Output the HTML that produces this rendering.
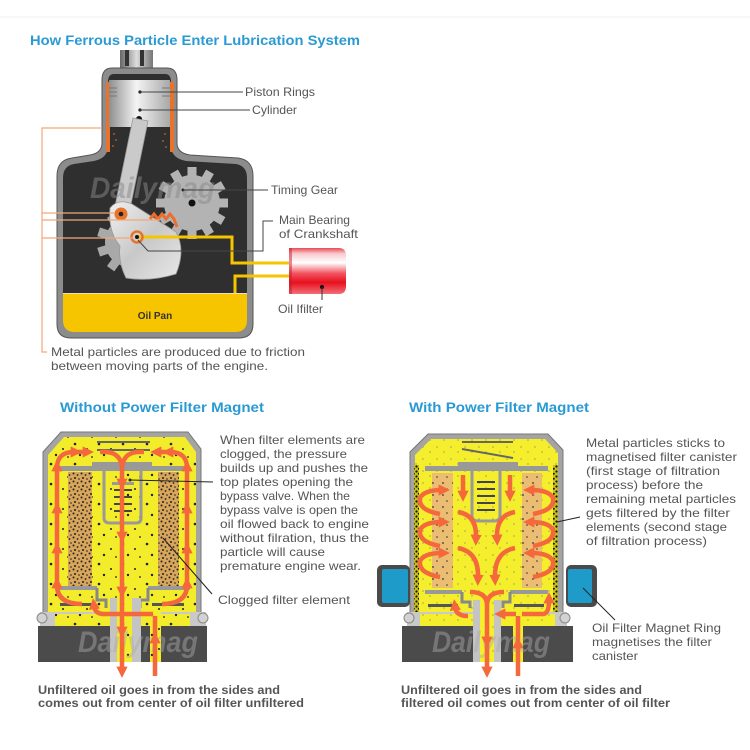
<!DOCTYPE html>
<html><head><meta charset="utf-8"><style>
html,body{margin:0;padding:0;background:#fff;}
svg{display:block;}
text{font-family:"Liberation Sans",sans-serif;}
.lb{font-size:12px;fill:#555;}
.hd{font-size:14px;fill:#2a9ad4;font-weight:bold;}
.bt{font-size:11.5px;fill:#555;font-weight:bold;}
.ar{stroke:#f4683c;stroke-width:4.5;fill:none;}
</style></head><body>
<svg width="750" height="750" viewBox="0 0 750 750" xmlns="http://www.w3.org/2000/svg">
<defs>
 <marker id="ah" viewBox="0 0 10 10" refX="3" refY="5" markerWidth="2.5" markerHeight="2.5" orient="auto"><path d="M0,0 L10,5 L0,10 z" fill="#f4683c"/></marker>
 <pattern id="sp" width="24" height="20" patternUnits="userSpaceOnUse">
  <rect width="24" height="20" fill="#f3ec2b"/>
  <circle cx="3" cy="4" r="1.3" fill="#222"/><circle cx="15" cy="9" r="1" fill="#222"/>
  <circle cx="8" cy="15" r="1.2" fill="#222"/><circle cx="20" cy="17" r="0.9" fill="#222"/>
 </pattern>
 <pattern id="ty" width="14" height="12" patternUnits="userSpaceOnUse">
  <rect width="14" height="12" fill="#f4ee2c"/>
  <circle cx="3" cy="3" r="0.6" fill="#777"/><circle cx="10" cy="8" r="0.6" fill="#777"/>
 </pattern>
 <pattern id="dn" width="8" height="8" patternUnits="userSpaceOnUse">
  <rect width="8" height="8" fill="#d8a65a"/>
  <circle cx="1.5" cy="1.5" r="1" fill="#222"/><circle cx="5.5" cy="3" r="0.9" fill="#222"/>
  <circle cx="3" cy="6" r="1" fill="#222"/><circle cx="7" cy="7" r="0.8" fill="#222"/>
 </pattern>
 <pattern id="lt" width="10" height="12" patternUnits="userSpaceOnUse">
  <rect width="10" height="12" fill="#ebbd72"/>
  <circle cx="3" cy="3" r="0.9" fill="#333"/><circle cx="7" cy="9" r="0.8" fill="#333"/>
 </pattern>
 <pattern id="mw" width="5" height="5" patternUnits="userSpaceOnUse">
  <rect width="5" height="5" fill="#c8c020"/>
  <circle cx="1.5" cy="1.5" r="1.1" fill="#111"/><circle cx="3.8" cy="3.8" r="1" fill="#111"/>
 </pattern>
 <linearGradient id="pist" x1="0" x2="1" y1="0" y2="0">
  <stop offset="0" stop-color="#8f8f8f"/><stop offset="0.45" stop-color="#f4f4f4"/><stop offset="1" stop-color="#a8a8a8"/>
 </linearGradient>
 <linearGradient id="stem" x1="0" x2="1" y1="0" y2="0">
  <stop offset="0" stop-color="#666"/><stop offset="0.5" stop-color="#ddd"/><stop offset="1" stop-color="#777"/>
 </linearGradient>
 <linearGradient id="cw" x1="0" x2="1" y1="0" y2="1">
  <stop offset="0" stop-color="#f0f0f0"/><stop offset="0.5" stop-color="#c8c8c8"/><stop offset="1" stop-color="#e8e8e8"/>
 </linearGradient>
 <linearGradient id="redf" x1="0" x2="0" y1="0" y2="1">
  <stop offset="0" stop-color="#e84a55"/><stop offset="0.12" stop-color="#f8c8cc"/><stop offset="0.32" stop-color="#ffffff"/>
  <stop offset="0.55" stop-color="#f25560"/><stop offset="0.75" stop-color="#e8101f"/><stop offset="1" stop-color="#f07078"/>
 </linearGradient>
</defs>

<rect width="750" height="750" fill="#fff"/>
<line x1="0" y1="17" x2="750" y2="17" stroke="#f2f2f2" stroke-width="1"/>

<!-- ===== ENGINE ===== -->
<text class="hd" x="30" y="45" textLength="330" lengthAdjust="spacingAndGlyphs">How Ferrous Particle Enter Lubrication System</text>

<rect x="120" y="50" width="33" height="24" fill="url(#stem)"/>
<rect x="125" y="50" width="4" height="16" fill="#333"/>
<rect x="140" y="50" width="4" height="16" fill="#333"/>

<path d="M112,68 H167 Q177,68 177,80 V143 Q177,153 190,155 L238,158 Q253,160 253,176 V324 Q253,338 239,338 H71 Q57,338 57,324 V176 Q57,160 72,158 L90,155 Q102,153 102,143 V80 Q102,68 112,68 Z" fill="#8c8c8c" stroke="#555" stroke-width="1"/>
<path d="M114,74 H165 Q171,74 171,82 V146 Q171,158 186,161 L236,164 Q247,166 247,178 V293 H63 V178 Q63,166 74,164 L94,161 Q108,158 108,146 V82 Q108,74 114,74 Z" fill="#2f2f2f"/>
<path d="M63,293 H247 V320 Q247,332 235,332 H75 Q63,332 63,320 Z" fill="#f6c500"/>
<line x1="63" y1="293.5" x2="247" y2="293.5" stroke="#e8e0c0" stroke-width="1"/>
<text x="155" y="319" font-size="10" font-weight="bold" fill="#333" text-anchor="middle">Oil Pan</text>

<!-- cylinder walls -->
<rect x="106" y="82" width="4" height="70" fill="#e8732a"/>
<rect x="170" y="82" width="4" height="70" fill="#e8732a"/>
<g fill="#c8662a">
 <circle cx="114" cy="134" r="0.9"/><circle cx="116" cy="140" r="0.9"/><circle cx="113" cy="146" r="0.9"/>
 <circle cx="165" cy="134" r="0.9"/><circle cx="163" cy="141" r="0.9"/><circle cx="166" cy="147" r="0.9"/>
</g>
<!-- piston -->
<rect x="109" y="80" width="61" height="47" fill="url(#pist)"/>
<g stroke="#777" stroke-width="1">
 <line x1="109" y1="88" x2="117" y2="88"/><line x1="109" y1="92" x2="117" y2="92"/><line x1="109" y1="96" x2="117" y2="96"/>
 <line x1="162" y1="88" x2="170" y2="88"/><line x1="162" y1="92" x2="170" y2="92"/><line x1="162" y1="96" x2="170" y2="96"/>
</g>
<circle cx="140" cy="92" r="1.6" fill="#222"/>
<circle cx="140" cy="110" r="1.6" fill="#222"/>
<circle cx="139" cy="119" r="3" fill="#111"/>

<!-- crank gear -->
<g transform="translate(130,242)" fill="#a9a9a9">
 <circle r="25"/>
 <rect x="-4.5" y="-33" width="9" height="10"/>
 <rect x="-4.5" y="-33" width="9" height="10" transform="rotate(36)"/>
 <rect x="-4.5" y="-33" width="9" height="10" transform="rotate(72)"/>
 <rect x="-4.5" y="-33" width="9" height="10" transform="rotate(108)"/>
 <rect x="-4.5" y="-33" width="9" height="10" transform="rotate(144)"/>
 <rect x="-4.5" y="-33" width="9" height="10" transform="rotate(180)"/>
 <rect x="-4.5" y="-33" width="9" height="10" transform="rotate(216)"/>
 <rect x="-4.5" y="-33" width="9" height="10" transform="rotate(252)"/>
 <rect x="-4.5" y="-33" width="9" height="10" transform="rotate(288)"/>
 <rect x="-4.5" y="-33" width="9" height="10" transform="rotate(324)"/>
</g>
<!-- timing gear -->
<g transform="translate(192,203)" fill="#b3b3b3">
 <circle r="28"/>
 <rect x="-4.5" y="-36" width="9" height="10"/>
 <rect x="-4.5" y="-36" width="9" height="10" transform="rotate(30)"/>
 <rect x="-4.5" y="-36" width="9" height="10" transform="rotate(60)"/>
 <rect x="-4.5" y="-36" width="9" height="10" transform="rotate(90)"/>
 <rect x="-4.5" y="-36" width="9" height="10" transform="rotate(120)"/>
 <rect x="-4.5" y="-36" width="9" height="10" transform="rotate(150)"/>
 <rect x="-4.5" y="-36" width="9" height="10" transform="rotate(180)"/>
 <rect x="-4.5" y="-36" width="9" height="10" transform="rotate(210)"/>
 <rect x="-4.5" y="-36" width="9" height="10" transform="rotate(240)"/>
 <rect x="-4.5" y="-36" width="9" height="10" transform="rotate(270)"/>
 <rect x="-4.5" y="-36" width="9" height="10" transform="rotate(300)"/>
 <rect x="-4.5" y="-36" width="9" height="10" transform="rotate(330)"/>
 <circle r="3.5" fill="#111"/>
</g>
<circle cx="183" cy="190" r="1.5" fill="#222"/>

<!-- connecting rod & counterweight -->
<polygon points="133,118 148,121 129,214 114,211" fill="#cacaca" stroke="#999" stroke-width="0.8"/>
<path d="M110,208 Q118,198 132,204 L176,232 Q186,250 176,274 Q150,282 126,278 Q118,262 120,246 Q108,232 110,208 Z" fill="url(#cw)" stroke="#999" stroke-width="0.8"/>
<circle cx="121" cy="214" r="6.5" fill="#e8732a"/>
<circle cx="121" cy="214" r="2.3" fill="#222"/>
<path d="M150,219 l4,-5 l4,5 l4,-5 l4,5 l4,-5 l4,5 l3,8" stroke="#ec6e2c" stroke-width="3" fill="none"/>

<!-- watermark -->
<text x="90" y="198" font-size="30" font-weight="bold" font-style="italic" fill="#8a8a8a" opacity="0.5" textLength="125" lengthAdjust="spacingAndGlyphs">Dailymag</text>

<!-- oil lines -->
<path d="M138,237 H232 V263 H290" stroke="#f6c500" stroke-width="3" fill="none"/>
<path d="M290,276 H235 V293" stroke="#f6c500" stroke-width="3" fill="none"/>
<circle cx="137" cy="237" r="5.5" fill="none" stroke="#e8732a" stroke-width="2.5"/>
<circle cx="137" cy="237" r="2" fill="#111"/>

<!-- oil filter -->
<path d="M289,248 H339 Q346,248 346,256 V286 Q346,294 339,294 H289 Z" fill="url(#redf)"/>
<rect x="289" y="248" width="3" height="46" fill="#c81a25" opacity="0.5"/>
<circle cx="322" cy="287" r="2" fill="#111"/>
<line x1="322" y1="287" x2="322" y2="300" stroke="#333" stroke-width="1"/>

<!-- leaders -->
<g stroke="#444" stroke-width="1" fill="none">
 <line x1="140" y1="92" x2="243" y2="92"/>
 <line x1="140" y1="110" x2="250" y2="110"/>
 <line x1="183" y1="190" x2="268" y2="190"/>
 <path d="M138,240 L148,251 H263 V221 H273"/>
</g>
<g stroke="#f2a878" stroke-width="1.2" fill="none">
 <path d="M102,128 H42 V352 H47"/>
 <line x1="42" y1="213" x2="115" y2="213"/>
 <line x1="42" y1="220" x2="160" y2="220"/>
 <line x1="42" y1="238" x2="133" y2="238"/>
</g>

<text class="lb" x="245" y="96" textLength="70" lengthAdjust="spacingAndGlyphs">Piston Rings</text>
<text class="lb" x="252" y="114" textLength="45" lengthAdjust="spacingAndGlyphs">Cylinder</text>
<text class="lb" x="271" y="194" textLength="67" lengthAdjust="spacingAndGlyphs">Timing Gear</text>
<text class="lb" x="279" y="224" textLength="71" lengthAdjust="spacingAndGlyphs">Main Bearing</text>
<text class="lb" x="279" y="238" textLength="79" lengthAdjust="spacingAndGlyphs">of Crankshaft</text>
<text class="lb" x="278" y="313" textLength="45" lengthAdjust="spacingAndGlyphs">Oil Ifilter</text>
<text class="lb" x="51" y="356" textLength="254" lengthAdjust="spacingAndGlyphs">Metal particles are produced due to friction</text>
<text class="lb" x="51" y="370" textLength="217" lengthAdjust="spacingAndGlyphs">between moving parts of the engine.</text>

<!-- ===== LEFT FILTER ===== -->
<text class="hd" x="60" y="412" textLength="204" lengthAdjust="spacingAndGlyphs">Without Power Filter Magnet</text>

<path d="M43,617 V452 L61,432 H188 L201,449 V617 Z" fill="#a4a4a4" stroke="#777" stroke-width="1"/>
<path d="M48,613 V455 L64,437 H185 L196,452 V613 Z" fill="url(#sp)"/>
<line x1="97" y1="442" x2="150" y2="442" stroke="#666" stroke-width="2"/>
<line x1="97" y1="450" x2="150" y2="450" stroke="#666" stroke-width="2"/>
<rect x="55" y="466" width="133" height="5" fill="#999"/>
<rect x="92" y="462" width="60" height="5" fill="#999"/>
<rect x="68" y="472" width="24" height="116" fill="url(#dn)"/>
<rect x="158" y="472" width="21" height="116" fill="url(#dn)"/>
<path d="M104,471 V518 Q104,523 110,523 H136 Q141,523 141,518 V471" stroke="#999" stroke-width="3" fill="none"/>
<rect x="112" y="482" width="22" height="3" fill="#999"/>
<g stroke="#444" stroke-width="2"><line x1="114" y1="490" x2="132" y2="490"/><line x1="114" y1="497" x2="132" y2="497"/><line x1="114" y1="504" x2="132" y2="504"/><line x1="114" y1="511" x2="132" y2="511"/></g>
<rect x="57" y="586" width="40" height="4" fill="#999"/>
<rect x="148" y="586" width="42" height="4" fill="#999"/>
<path d="M97,588 V600 H106 V608" stroke="#888" stroke-width="3" fill="none"/>
<path d="M148,588 V600 H140 V608" stroke="#888" stroke-width="3" fill="none"/>
<rect x="60" y="603" width="32" height="3" fill="#555"/>
<rect x="152" y="603" width="32" height="3" fill="#555"/>
<rect x="40" y="612" width="166" height="14" fill="#c9c9c9"/>
<rect x="55" y="614" width="135" height="12" fill="url(#sp)"/>
<circle cx="42" cy="618" r="5" fill="#d2d2d2" stroke="#888" stroke-width="1"/>
<circle cx="203" cy="618" r="5" fill="#d2d2d2" stroke="#888" stroke-width="1"/>
<rect x="38" y="626" width="169" height="36" fill="#4b4b4b"/>
<rect x="110" y="598" width="31" height="64" fill="#c4c4c4"/>
<rect x="117" y="598" width="15" height="64" fill="url(#sp)"/>
<rect x="150" y="612" width="11" height="50" fill="url(#sp)"/>
<text x="78" y="652" font-size="30" font-weight="bold" font-style="italic" fill="#aaa" opacity="0.45" textLength="120" lengthAdjust="spacingAndGlyphs">Dailymag</text>

<path class="ar" marker-mid="url(#ah)" marker-end="url(#ah)" d="M82,604 Q57,604 57,585 V550 V510 V468 Q57,452 74,452 H86"/>
<path class="ar" marker-mid="url(#ah)" marker-end="url(#ah)" d="M162,604 Q187,604 187,585 V550 V510 V468 Q187,452 170,452 H158"/>
<path class="ar" d="M100,452 Q122,450 122,470 M144,452 Q122,450 122,470"/>
<path class="ar" marker-mid="url(#ah)" marker-end="url(#ah)" d="M122,470 V482 V535 V590 V630 V670"/>
<path class="ar" marker-mid="url(#ah)" d="M155,676 V640 V616"/>
<path class="ar" marker-end="url(#ah)" d="M153,614 H104 Q95,614 94,606"/>

<g stroke="#222" stroke-width="1" fill="none">
 <line x1="213" y1="482" x2="130" y2="480"/>
 <line x1="212" y1="594" x2="163" y2="538"/>
</g>
<circle cx="130" cy="480" r="1.5" fill="#222"/>

<g class="lb">
<text x="220" y="444" textLength="145" lengthAdjust="spacingAndGlyphs">When filter elements are</text>
<text x="220" y="458" textLength="127" lengthAdjust="spacingAndGlyphs">clogged, the pressure</text>
<text x="220" y="472" textLength="148" lengthAdjust="spacingAndGlyphs">builds up and pushes the</text>
<text x="220" y="486" textLength="133" lengthAdjust="spacingAndGlyphs">top plates opening the</text>
<text x="220" y="500" textLength="130" lengthAdjust="spacingAndGlyphs">bypass valve. When the</text>
<text x="220" y="514" textLength="138" lengthAdjust="spacingAndGlyphs">bypass valve is open the</text>
<text x="220" y="528" textLength="149" lengthAdjust="spacingAndGlyphs">oil flowed back to engine</text>
<text x="220" y="542" textLength="149" lengthAdjust="spacingAndGlyphs">without filration, thus the</text>
<text x="220" y="556" textLength="105" lengthAdjust="spacingAndGlyphs">particle will cause</text>
<text x="220" y="570" textLength="141" lengthAdjust="spacingAndGlyphs">premature engine wear.</text>
<text x="218" y="604" textLength="132" lengthAdjust="spacingAndGlyphs">Clogged filter element</text>
</g>
<text class="bt" x="38" y="694" textLength="242" lengthAdjust="spacingAndGlyphs">Unfiltered oil goes in from the sides and</text>
<text class="bt" x="38" y="707" textLength="266" lengthAdjust="spacingAndGlyphs">comes out from center of oil filter unfiltered</text>

<!-- ===== RIGHT FILTER ===== -->
<text class="hd" x="409" y="412" textLength="180" lengthAdjust="spacingAndGlyphs">With Power Filter Magnet</text>

<path d="M410,617 V452 L428,434 H548 L563,450 V617 Z" fill="#a4a4a4" stroke="#777" stroke-width="1"/>
<path d="M415,613 V455 L431,439 H545 L558,453 V613 Z" fill="url(#ty)"/>
<rect x="414" y="465" width="5" height="148" fill="url(#mw)"/>
<rect x="553" y="465" width="5" height="148" fill="url(#mw)"/>
<line x1="462" y1="442" x2="513" y2="442" stroke="#666" stroke-width="2"/>
<line x1="462" y1="449" x2="513" y2="458" stroke="#666" stroke-width="2"/>
<rect x="425" y="466" width="123" height="5" fill="#999"/>
<rect x="458" y="462" width="60" height="5" fill="#999"/>
<rect x="432" y="473" width="21" height="115" fill="url(#lt)"/>
<rect x="522" y="473" width="20" height="115" fill="url(#lt)"/>
<path d="M472,471 V516 Q472,521 478,521 H494 Q500,521 500,516 V471" stroke="#999" stroke-width="3" fill="none"/>
<g stroke="#444" stroke-width="2"><line x1="477" y1="482" x2="495" y2="482"/><line x1="477" y1="489" x2="495" y2="489"/><line x1="477" y1="496" x2="495" y2="496"/><line x1="477" y1="503" x2="495" y2="503"/><line x1="477" y1="510" x2="495" y2="510"/></g>
<rect x="425" y="590" width="37" height="4" fill="#999"/>
<rect x="510" y="590" width="38" height="4" fill="#999"/>
<path d="M462,592 V602 H470 V608" stroke="#888" stroke-width="3" fill="none"/>
<path d="M510,592 V602 H503 V608" stroke="#888" stroke-width="3" fill="none"/>
<rect x="428" y="604" width="30" height="3" fill="#555"/>
<rect x="514" y="604" width="30" height="3" fill="#555"/>
<rect x="407" y="612" width="160" height="14" fill="#c9c9c9"/>
<rect x="420" y="614" width="135" height="12" fill="url(#ty)"/>
<circle cx="409" cy="618" r="5" fill="#d2d2d2" stroke="#888" stroke-width="1"/>
<circle cx="565" cy="618" r="5" fill="#d2d2d2" stroke="#888" stroke-width="1"/>
<rect x="402" y="626" width="171" height="36" fill="#4b4b4b"/>
<rect x="473" y="600" width="28" height="62" fill="#c4c4c4"/>
<rect x="480" y="600" width="14" height="62" fill="url(#ty)"/>
<rect x="513" y="612" width="10" height="50" fill="url(#sp)"/>
<text x="432" y="652" font-size="30" font-weight="bold" font-style="italic" fill="#aaa" opacity="0.45" textLength="118" lengthAdjust="spacingAndGlyphs">Dailymag</text>

<!-- magnet rings -->
<rect x="377" y="565" width="33" height="42" rx="5" fill="#4a4a4a"/>
<rect x="382" y="569" width="26" height="34" rx="2" fill="#1f9bc9"/>
<rect x="566" y="565" width="31" height="42" rx="5" fill="#4a4a4a"/>
<rect x="568" y="569" width="24" height="34" rx="2" fill="#1f9bc9"/>

<!-- arrows right -->
<g class="ar" marker-end="url(#ah)">
 <path d="M440,514 Q418,510 420,498 Q424,490 442,490"/>
 <path d="M440,546 Q418,542 420,530 Q424,522 442,522"/>
 <path d="M440,577 Q418,573 420,561 Q424,553 442,553"/>
 <path d="M533,514 Q555,510 553,498 Q549,490 531,490"/>
 <path d="M533,546 Q555,542 553,530 Q549,522 531,522"/>
 <path d="M533,577 Q555,573 553,561 Q549,553 531,553"/>
 <path d="M463,475 V494"/>
 <path d="M510,475 V494"/>
 <path d="M458,512 Q477,515 476,538"/>
 <path d="M458,548 Q479,552 478,578"/>
 <path d="M515,512 Q496,515 497,538"/>
 <path d="M515,548 Q494,552 495,578"/>
 <path d="M516,614 H502"/>
 <path d="M522,614 H543 Q549,614 549,600"/>
 <path d="M468,616 Q456,616 455,607"/>
</g>
<path class="ar" d="M470,592 Q487,592 487,605 M504,592 Q487,592 487,605"/>
<path class="ar" marker-mid="url(#ah)" marker-end="url(#ah)" d="M487,605 V640 V670"/>
<path class="ar" marker-mid="url(#ah)" d="M518,676 V645 V616"/>

<g stroke="#222" stroke-width="1" fill="none">
 <line x1="580" y1="517" x2="557" y2="522"/>
 <line x1="615" y1="620" x2="583" y2="588"/>
</g>

<g class="lb">
<text x="586" y="447" textLength="139" lengthAdjust="spacingAndGlyphs">Metal particles sticks to</text>
<text x="586" y="461" textLength="151" lengthAdjust="spacingAndGlyphs">magnetised filter canister</text>
<text x="586" y="475" textLength="134" lengthAdjust="spacingAndGlyphs">(first stage of filtration</text>
<text x="586" y="489" textLength="117" lengthAdjust="spacingAndGlyphs">process) before the</text>
<text x="586" y="503" textLength="150" lengthAdjust="spacingAndGlyphs">remaining metal particles</text>
<text x="586" y="517" textLength="144" lengthAdjust="spacingAndGlyphs">gets filtered by the filter</text>
<text x="586" y="531" textLength="141" lengthAdjust="spacingAndGlyphs">elements (second stage</text>
<text x="586" y="545" textLength="121" lengthAdjust="spacingAndGlyphs">of filtration process)</text>
<text x="592" y="632" textLength="129" lengthAdjust="spacingAndGlyphs">Oil Filter Magnet Ring</text>
<text x="592" y="646" textLength="120" lengthAdjust="spacingAndGlyphs">magnetises the filter</text>
<text x="592" y="660" textLength="46" lengthAdjust="spacingAndGlyphs">canister</text>
</g>
<text class="bt" x="401" y="694" textLength="241" lengthAdjust="spacingAndGlyphs">Unfiltered oil goes in from the sides and</text>
<text class="bt" x="401" y="707" textLength="269" lengthAdjust="spacingAndGlyphs">filtered oil comes out from center of oil filter</text>
</svg>
</body></html>
